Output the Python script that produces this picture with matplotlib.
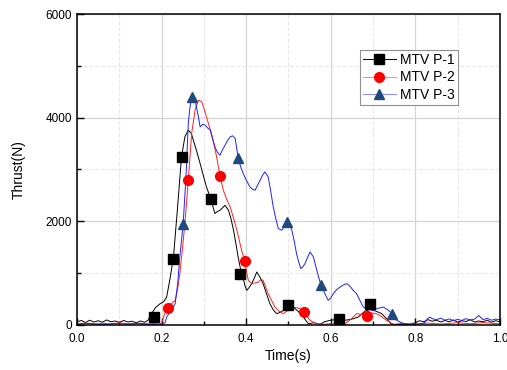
import matplotlib
matplotlib.use("Agg")
import matplotlib.pyplot as plt
from matplotlib.lines import Line2D
from matplotlib.ticker import MultipleLocator, FormatStrFormatter

plt.rcParams['font.family'] = ['Liberation Sans', 'DejaVu Sans']

# thrust curves (time s, thrust N)
t1 = [0.00, 0.01, 0.02, 0.03, 0.04, 0.05, 0.06, 0.07, 0.08, 0.09, 0.10, 0.11, 0.12, 0.13, 0.14, 0.15,
      0.16, 0.168, 0.175, 0.185, 0.195, 0.205, 0.212, 0.22, 0.228, 0.237, 0.247, 0.255, 0.263, 0.27,
      0.275, 0.283, 0.291, 0.298, 0.306, 0.316, 0.326, 0.332, 0.338, 0.344, 0.35, 0.358, 0.364, 0.37,
      0.376, 0.381, 0.386, 0.392, 0.397, 0.401, 0.407, 0.413, 0.419, 0.425, 0.432, 0.44, 0.448, 0.456,
      0.464, 0.472, 0.48, 0.488, 0.5, 0.511, 0.523, 0.535, 0.547, 0.56, 0.575, 0.585, 0.598, 0.61,
      0.622, 0.635, 0.65, 0.665, 0.68, 0.693, 0.705, 0.72, 0.732, 0.742, 0.755, 0.77, 0.785, 0.80,
      0.81, 0.82, 0.83, 0.84, 0.85, 0.86, 0.87, 0.88, 0.89, 0.90, 0.91, 0.92, 0.93, 0.94, 0.95, 0.96,
      0.97, 0.98, 0.99, 1.00]
f1 = [60, 85, 45, 90, 55, 80, 50, 95, 60, 75, 45, 85, 55, 70, 40, 75,
      50, 90, 200, 330, 400, 450, 540, 900, 1310, 2200, 3243, 3630, 3758, 3700,
      3565, 3350, 3115, 2900, 2663, 2438, 2148, 2190, 2212, 2260, 2309, 2212, 2050, 1826,
      1550, 1310, 1100, 924, 760, 667, 720, 796, 900, 1020, 930, 796, 600, 410,
      290, 216, 240, 280, 377, 344, 260, 150, 23, 40, 10, 60, 87, 100,
      120, 90, 110, 150, 260, 300, 270, 220, 120, 20, 0, 15, 5, 40,
      80, 60, 100, 70, 90, 55, 85, 60, 95, 50, 80, 65, 100, 55, 75, 60,
      90, 50, 80, 60]

t2 = [0.00, 0.02, 0.04, 0.06, 0.08, 0.10, 0.12, 0.14, 0.16, 0.18, 0.195, 0.20, 0.206, 0.212, 0.222,
      0.232, 0.238, 0.243, 0.249, 0.255, 0.263, 0.271, 0.279, 0.287, 0.295, 0.30, 0.306, 0.312, 0.318,
      0.324, 0.33, 0.338, 0.346, 0.354, 0.362, 0.37, 0.378, 0.384, 0.389, 0.397, 0.401, 0.405, 0.413,
      0.421, 0.429, 0.435, 0.44, 0.446, 0.452, 0.46, 0.468, 0.478, 0.488, 0.50, 0.511, 0.52, 0.527,
      0.537, 0.544, 0.551, 0.559, 0.567, 0.58, 0.60, 0.62, 0.635, 0.648, 0.661, 0.673, 0.686, 0.697,
      0.708, 0.72, 0.732, 0.748, 0.77, 0.80, 0.83, 0.86, 0.90, 0.93, 0.96, 1.00]
f2 = [20, 35, 10, 30, 15, 40, 20, 30, 10, 25, 15, 40, 180, 313, 400,
      473, 700, 989, 1450, 1955, 2792, 3694, 4145, 4338, 4306, 4180, 4016, 3850, 3694,
      3480, 3243, 2870, 2599, 2420, 2277, 2060, 1826, 1620, 1440, 1233, 1020, 860, 796,
      810, 827, 880, 860, 730, 603, 470, 344, 260, 216, 290, 344, 330, 313,
      247, 170, 87, 50, 23, 10, 25, 5, 30, 110, 216, 200, 170, 230,
      216, 160, 87, 10, 30, 10, 35, 15, 40, 20, 45, 20]

t3 = [0.00, 0.03, 0.06, 0.09, 0.12, 0.15, 0.18, 0.20, 0.208, 0.212, 0.222, 0.232, 0.238, 0.243,
      0.251, 0.258, 0.263, 0.267, 0.271, 0.279, 0.287, 0.291, 0.297, 0.303, 0.309, 0.315, 0.32,
      0.326, 0.332, 0.338, 0.344, 0.35, 0.356, 0.362, 0.368, 0.374, 0.381, 0.387, 0.393, 0.401,
      0.409, 0.415, 0.421, 0.427, 0.433, 0.438, 0.444, 0.452, 0.458, 0.464, 0.47, 0.476, 0.484,
      0.49, 0.496, 0.502, 0.508, 0.514, 0.519, 0.524, 0.529, 0.534, 0.539, 0.545, 0.551, 0.559,
      0.563, 0.567, 0.572, 0.577, 0.586, 0.594, 0.60, 0.606, 0.614, 0.622, 0.63, 0.638, 0.646,
      0.653, 0.661, 0.669, 0.677, 0.688, 0.70, 0.712, 0.724, 0.735, 0.745, 0.756, 0.772, 0.79,
      0.81, 0.822, 0.828, 0.834, 0.84, 0.85, 0.86, 0.87, 0.88, 0.89, 0.90, 0.91, 0.92, 0.93,
      0.94, 0.95, 0.96, 0.97, 0.98, 0.99, 1.00]
f3 = [10, 30, 5, 25, 10, 30, 5, 15, 40, 151, 280, 410, 800, 1310,
      1955, 2921, 3888, 4200, 4390, 4338, 4016, 3822, 3870, 3855, 3800, 3758, 3600,
      3436, 3330, 3275, 3380, 3469, 3560, 3629, 3650, 3597, 3223, 3050, 2921, 2780,
      2663, 2620, 2599, 2700, 2792, 2880, 2953, 2856, 2580, 2277, 2050, 1859, 1826,
      1900, 1987, 1950, 1826, 1600, 1376, 1220, 1086, 1120, 1183, 1300, 1407, 1310,
      1180, 1053, 900, 763, 603, 473, 520, 603, 680, 730, 770, 796, 740,
      667, 603, 470, 344, 300, 280, 320, 344, 290, 216, 87, 23, 10,
      20, 40, 110, 150, 120, 100, 130, 90, 115, 80, 105, 85, 120, 95,
      110, 180, 100, 125, 90, 110, 100]

# marker positions
m1_t = [0.182, 0.228, 0.247, 0.316, 0.385, 0.500, 0.620, 0.693]
m1_f = [151, 1279, 3243, 2438, 989, 377, 120, 396]
m2_t = [0.216, 0.263, 0.338, 0.397, 0.537, 0.686]
m2_f = [332, 2792, 2870, 1233, 247, 170]
m3_t = [0.251, 0.271, 0.381, 0.496, 0.577, 0.745]
m3_f = [1955, 4390, 3223, 1987, 763, 216]

labels = ['MTV P-1', 'MTV P-2', 'MTV P-3']

fig = plt.figure(figsize=(5.07, 3.70), dpi=100)
ax = fig.add_axes([0.152, 0.122, 0.834, 0.840])

ax.plot(t1, f1, color='black', lw=0.7)
ax.plot(t2, f2, color='#ff2020', lw=0.7)
ax.plot(t3, f3, color='#2020ff', lw=0.7)
ax.plot(m1_t, m1_f, 's', color='black', ms=6.5, ls='none')
ax.plot(m2_t, m2_f, 'o', color='red', ms=7, ls='none')
ax.plot(m3_t, m3_f, '^', color='#1f4a7e', ms=7.5, ls='none')

ax.set_xlim(0, 1.0)
ax.set_ylim(0, 6000)
ax.xaxis.set_major_locator(MultipleLocator(0.2))
ax.xaxis.set_minor_locator(MultipleLocator(0.1))
ax.xaxis.set_major_formatter(FormatStrFormatter('%.1f'))
ax.yaxis.set_major_locator(MultipleLocator(2000))
ax.yaxis.set_minor_locator(MultipleLocator(1000))
ax.grid(which='major', color='#d4d4d4', lw=0.9)
ax.grid(which='minor', color='#e8e8e8', lw=0.8, ls='--')
ax.set_axisbelow(True)
ax.tick_params(which='both', direction='in', top=False, right=False, labelsize=8.5)
ax.tick_params(which='major', length=5, width=1)
ax.tick_params(which='minor', length=3, width=1)
ax.tick_params(axis='x', pad=6)
for s in ax.spines.values():
    s.set_linewidth(1.1)
ax.set_xlabel('Time(s)', fontsize=10)
ax.set_ylabel('Thrust(N)', fontsize=10)
ax.yaxis.set_label_coords(-0.122, 0.5)
ax.xaxis.set_label_coords(0.5, -0.079)

handles = [Line2D([], [], color='black', lw=0.7, marker='s', ms=6.5),
           Line2D([], [], color='#ff9090', lw=0.8, marker='o', ms=7, mfc='red', mec='red'),
           Line2D([], [], color='#9090ff', lw=0.8, marker='^', ms=7.5, mfc='#1f4a7e', mec='#1f4a7e')]
leg = ax.legend(handles, labels, loc='upper left', bbox_to_anchor=(0.669, 0.884), fontsize=10,
                fancybox=False, edgecolor='#909090', framealpha=1, borderpad=0.2,
                labelspacing=0.25, handlelength=2.4, handletextpad=0.3, borderaxespad=0)
leg.get_frame().set_linewidth(0.8)

fig.savefig('out.png', dpi=100)
